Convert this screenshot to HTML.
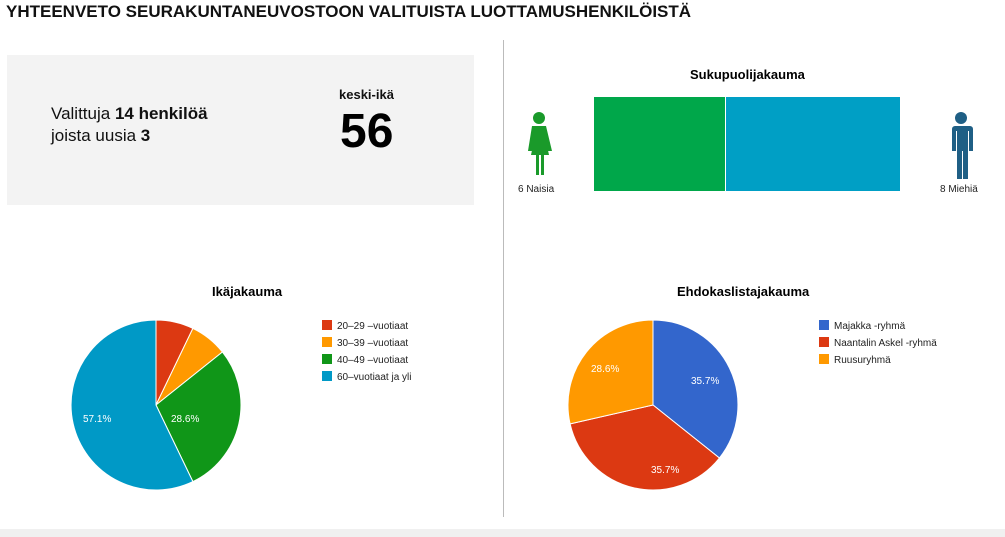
<!DOCTYPE html>
<html><head><meta charset="utf-8"><style>
body{margin:0;width:1005px;height:537px;background:#fff;font-family:"Liberation Sans",Arial,sans-serif;position:relative;overflow:hidden}
.a{position:absolute}
</style></head><body>
<div class="a" style="left:6px;top:2px;font-size:17px;font-weight:bold;color:#111">YHTEENVETO SEURAKUNTANEUVOSTOON VALITUISTA LUOTTAMUSHENKILÖISTÄ</div>
<div class="a" style="left:7px;top:55px;width:467px;height:150px;background:#f3f3f3"></div>
<div class="a" style="left:51px;top:103px;font-size:17px;line-height:22px;color:#111">Valittuja <b>14 henkilöä</b><br>joista uusia <b>3</b></div>
<div class="a" style="left:339px;top:87px;font-size:13px;font-weight:bold;color:#111">keski-ikä</div>
<div class="a" style="left:340px;top:104px;font-size:48px;font-weight:bold;color:#000">56</div>
<div class="a" style="left:503px;top:40px;width:1px;height:477px;background:#bbb"></div>
<div class="a" style="left:0;top:529px;width:1005px;height:8px;background:#f0f0f0"></div>
<div class="a" style="left:690px;top:67px;font-size:13px;font-weight:bold">Sukupuolijakauma</div>
<div class="a" style="left:594px;top:97px;width:131px;height:94px;background:#00a74a"></div>
<div class="a" style="left:726px;top:97px;width:174px;height:94px;background:#009fc5"></div>
<svg class="a" style="left:520px;top:110px" width="40" height="70"><circle cx="19" cy="8" r="6" fill="#1a9a2a"/><path d="M12 16h14l6 25h-4l-2-10 3 14h-5v20h-3v-20h-2v20h-3v-20h-5l3-14-2 10h-4z" fill="#1a9a2a"/></svg>
<svg class="a" style="left:943px;top:110px" width="40" height="70"><circle cx="18" cy="8" r="6" fill="#1f5f85"/><path d="M9 16h18a3 3 0 0 1 3 3v22h-4v-20h-1v48h-5v-28h-1v28h-5v-48h-1v20h-4v-22a3 3 0 0 1 3-3z" fill="#1f5f85"/></svg>
<div class="a" style="left:518px;top:184px;font-size:10px;color:#222">6 Naisia</div>
<div class="a" style="left:940px;top:184px;font-size:10px;color:#222">8 Miehiä</div>
<div class="a" style="left:212px;top:284px;font-size:13px;font-weight:bold">Ikäjakauma</div>
<div class="a" style="left:677px;top:284px;font-size:13px;font-weight:bold">Ehdokaslistajakauma</div>
<svg class="a" style="left:0;top:0" width="1005" height="537" font-family="Liberation Sans,Arial,sans-serif" font-size="10">
<g stroke="#fff" stroke-width="1">
<path d="M156 405L156 320A85 85 0 0 1 192.9 328.4Z" fill="#dc3912"/>
<path d="M156 405L192.9 328.4A85 85 0 0 1 222.4 352Z" fill="#ff9900"/>
<path d="M156 405L222.4 352A85 85 0 0 1 192.9 481.6Z" fill="#109618"/>
<path d="M156 405L192.9 481.6A85 85 0 1 1 156 320Z" fill="#0099c6"/>
<path d="M653 405L653 320A85 85 0 0 1 719.4 458Z" fill="#3366cc"/>
<path d="M653 405L719.4 458A85 85 0 0 1 570.1 423.9Z" fill="#dc3912"/>
<path d="M653 405L570.1 423.9A85 85 0 0 1 653 320Z" fill="#ff9900"/>
</g>
<g fill="#fff"><text x="83" y="422">57.1%</text><text x="171" y="422">28.6%</text>
<text x="691" y="384">35.7%</text><text x="651" y="473">35.7%</text><text x="591" y="372">28.6%</text></g>
<rect x="322" y="320" width="10" height="10" fill="#dc3912"/><text x="337" y="329" fill="#222">20–29 –vuotiaat</text>
<rect x="322" y="337" width="10" height="10" fill="#ff9900"/><text x="337" y="346" fill="#222">30–39 –vuotiaat</text>
<rect x="322" y="354" width="10" height="10" fill="#109618"/><text x="337" y="363" fill="#222">40–49 –vuotiaat</text>
<rect x="322" y="371" width="10" height="10" fill="#0099c6"/><text x="337" y="380" fill="#222">60–vuotiaat ja yli</text>
<rect x="819" y="320" width="10" height="10" fill="#3366cc"/><text x="834" y="329" fill="#222">Majakka -ryhmä</text>
<rect x="819" y="337" width="10" height="10" fill="#dc3912"/><text x="834" y="346" fill="#222">Naantalin Askel -ryhmä</text>
<rect x="819" y="354" width="10" height="10" fill="#ff9900"/><text x="834" y="363" fill="#222">Ruusuryhmä</text>
</svg>
</body></html>
